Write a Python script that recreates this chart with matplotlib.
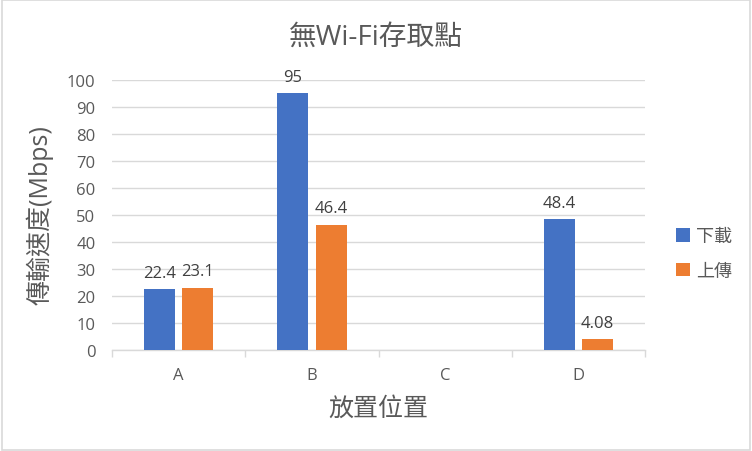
import numpy as np
import matplotlib
matplotlib.use('Agg')
import matplotlib.pyplot as plt
from matplotlib.patches import Rectangle

plt.rcParams['font.family'] = ['Open Sans', 'Noto Sans CJK TC', 'DejaVu Sans']

categories = ['A', 'B', 'C', 'D']
download = [22.4, 95, np.nan, 48.4]
upload = [23.1, 46.4, np.nan, 4.08]
series_names = ['下載', '上傳']
title = '無Wi-Fi存取點'
xlabel = '放置位置'
ylabel = '傳輸速度(Mbps)'

blue = '#4472C4'
orange = '#ED7D31'
grey = '#595959'

fig = plt.figure(figsize=(7.52, 4.52), dpi=100)
fig.patches.append(Rectangle((0.002, 0.002), 0.996, 0.996, transform=fig.transFigure,
                             fill=False, edgecolor='#D9D9D9', linewidth=1.2))
ax = fig.add_axes([0.149, 0.2235, 0.709, 0.5975])

x = np.arange(len(categories))
w = 0.233
off = 0.143
b1 = ax.bar(x - off, download, w, color=blue, label=series_names[0], zorder=3)
b2 = ax.bar(x + off, upload, w, color=orange, label=series_names[1], zorder=3)

for bars, vals in ((b1, download), (b2, upload)):
    for rect, v in zip(bars, vals):
        if np.isnan(v):
            continue
        ax.annotate(f'{v:g}', (rect.get_x() + rect.get_width() / 2, v),
                    xytext=(0, 6), textcoords='offset points',
                    ha='center', va='bottom', fontsize=12, color='#404040')

ax.set_xlim(-0.5, 3.5)
ax.set_ylim(0, 100)
ax.set_yticks(range(0, 101, 10))
ax.yaxis.grid(True, color='#D9D9D9', linewidth=1, zorder=0)
ax.set_axisbelow(True)

for s in ('top', 'right', 'left'):
    ax.spines[s].set_visible(False)
ax.spines['bottom'].set_color('#D9D9D9')
ax.spines['bottom'].set_linewidth(1)

ax.set_xticks(x)
ax.set_xticklabels(categories)
ax.set_xticks(np.arange(-0.5, 4, 1), minor=True)
ax.tick_params(axis='x', which='major', length=0, pad=12, labelsize=12, labelcolor=grey)
ax.tick_params(axis='x', which='minor', length=5, color='#D9D9D9', width=1)
ax.tick_params(axis='y', length=0, pad=12, labelsize=12, labelcolor=grey)

fig.text(0.5, 1 - 38 / 452, title, fontsize=20, color=grey, ha='center', va='center')
fig.text(378 / 752, 1 - 409 / 452, xlabel, fontsize=18, color=grey, ha='center', va='center')
fig.text(40 / 752, 1 - 215 / 452, ylabel, fontsize=18, color=grey, ha='center', va='center',
         rotation=90)

leg = fig.legend(handles=[b1, b2], loc='center left', bbox_to_anchor=(676 / 752, 1 - 254.5 / 452),
                 frameon=False, handlelength=0.75, handleheight=0.75, handletextpad=0.35,
                 labelspacing=0.9, fontsize=13, borderpad=0, borderaxespad=0)
for t in leg.get_texts():
    t.set_color(grey)

fig.savefig('out.png', dpi=100)
